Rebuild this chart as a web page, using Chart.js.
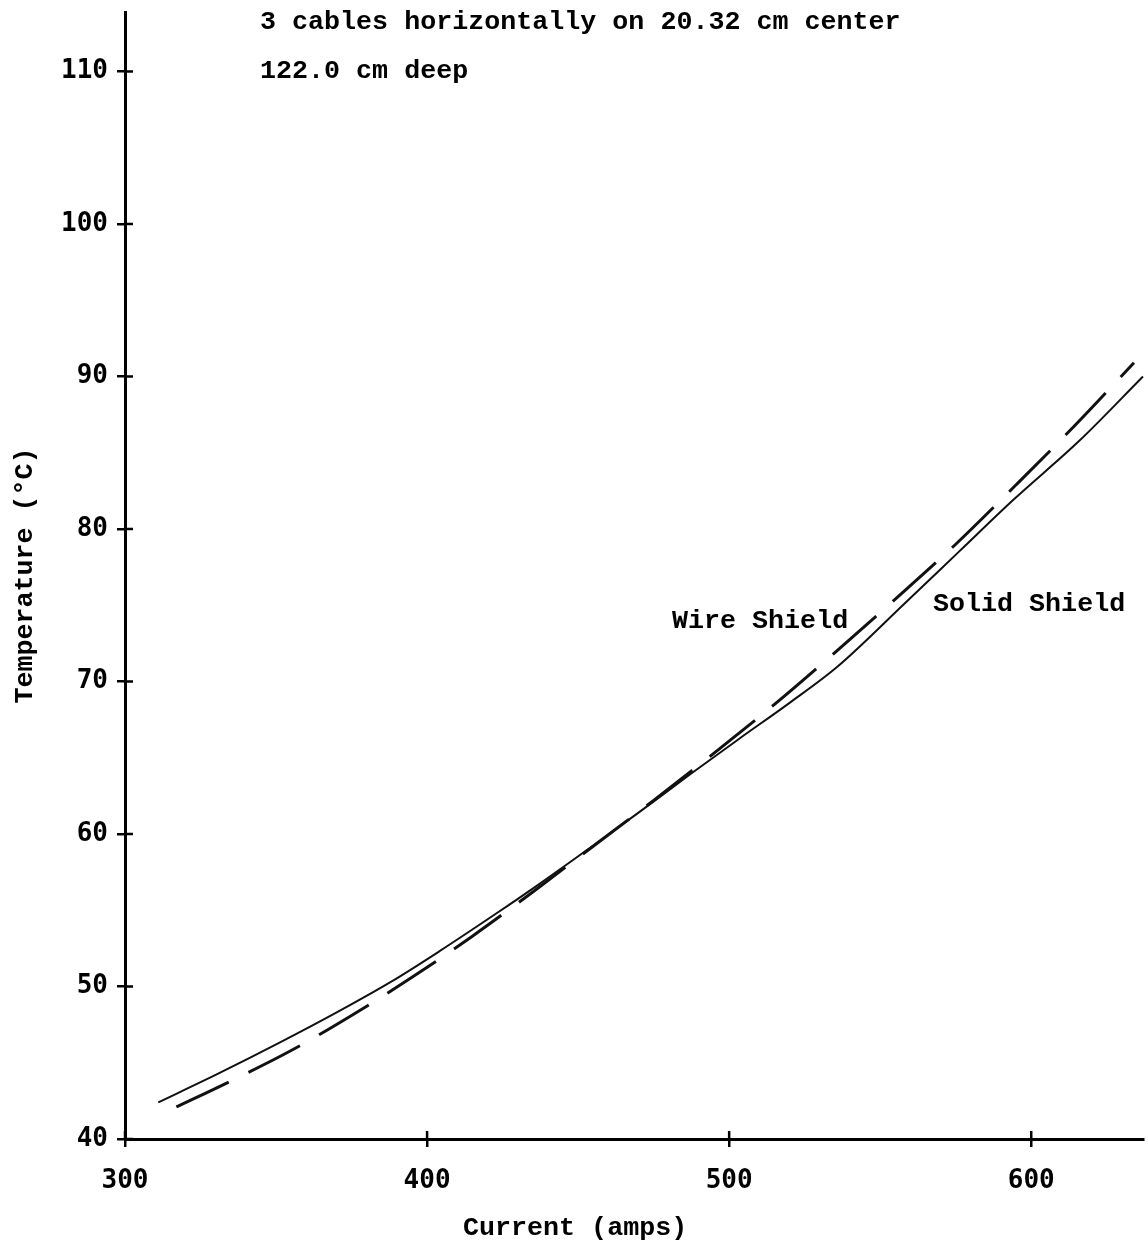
<!DOCTYPE html>
<html>
<head>
<meta charset="utf-8">
<script src="https://cdn.jsdelivr.net/npm/chart.js@4.4.1/dist/chart.umd.min.js"></script>
<style>
  html, body { margin: 0; padding: 0; background: #fff; }
  #wrap { width: 1148px; height: 1244px; }
</style>
</head>
<body>
<div id="wrap"><canvas id="tempChart" width="1148" height="1244"></canvas></div>
<script>
// values (current in amps, temperature in deg C)
const solidCurrent = [311, 331, 351, 371, 388, 404, 423, 437, 454, 470, 487, 503, 520, 536, 558, 576, 594, 616, 637];
const solidTemp    = [42.4, 44.3, 46.3, 48.4, 50.3, 52.3, 54.8, 56.7, 59.1, 61.4, 63.9, 66.2, 68.6, 71.0, 75.1, 78.5, 81.9, 85.8, 90.0];

const wireCurrent = [317, 335, 355, 375, 395, 415, 435, 455, 475, 495, 515, 535, 555, 575, 595, 615, 634];
const wireTemp    = [42.1, 43.8, 45.8, 48.1, 50.6, 53.3, 56.2, 59.2, 62.2, 65.3, 68.5, 71.9, 75.4, 79.0, 82.9, 86.9, 90.9];

const xTicks = [300, 400, 500, 600];
const yTicks = [40, 50, 60, 70, 80, 90, 100, 110];

const notes = [
    { text: "3 cables horizontally on 20.32 cm center", x: 260, y: 22 },
    { text: "122.0 cm deep", x: 260, y: 71 },
    { text: "Wire Shield", x: 672, y: 621 },
    { text: "Solid Shield", x: 933, y: 604 },
    { text: "Current (amps)", x: 463, y: 1228 }
];

const typeFont = 'bold 26.7px "Liberation Mono", "Courier New", monospace';

function toPoints(xs, ys) {
    return xs.map((x, i) => ({ x: x, y: ys[i] }));
}

// inner half of the "+" tick marks, plus the typed labels
const extrasPlugin = {
    id: 'extras',
    afterDraw(chart) {
        const c = chart.ctx;
        const xs = chart.scales.x, ys = chart.scales.y;
        c.save();
        c.strokeStyle = '#000';
        c.lineWidth = 2.5;
        yTicks.forEach(v => {
            const p = ys.getPixelForValue(v);
            c.beginPath(); c.moveTo(xs.left, p); c.lineTo(xs.left + 8, p); c.stroke();
        });
        xTicks.forEach(v => {
            const p = xs.getPixelForValue(v);
            c.beginPath(); c.moveTo(p, ys.bottom); c.lineTo(p, ys.bottom - 8); c.stroke();
        });
        c.fillStyle = '#000';
        c.font = typeFont;
        c.textAlign = 'left';
        c.textBaseline = 'middle';
        notes.forEach(n => c.fillText(n.text, n.x, n.y));
        c.restore();
    }
};

const ctx = document.getElementById('tempChart').getContext('2d');
new Chart(ctx, {
    type: 'line',
    data: {
        datasets: [
            {
                label: 'Solid Shield',
                data: toPoints(solidCurrent, solidTemp),
                borderColor: '#111',
                borderWidth: 2,
                pointRadius: 0,
                cubicInterpolationMode: 'monotone',
                fill: false,
                clip: false
            },
            {
                label: 'Wire Shield',
                data: toPoints(wireCurrent, wireTemp),
                borderColor: '#111',
                borderWidth: 3,
                borderDash: [58, 22],
                pointRadius: 0,
                cubicInterpolationMode: 'monotone',
                fill: false,
                clip: false
            }
        ]
    },
    options: {
        responsive: false,
        animation: false,
        layout: { padding: { top: 12, right: 5, left: 0, bottom: 0 } },
        plugins: { legend: { display: false }, tooltip: { enabled: false } },
        scales: {
            x: {
                type: 'linear',
                min: 300,
                max: 637,
                afterFit(scale) {
                    scale.height = 105;
                    scale.paddingLeft = 0;
                    scale.paddingRight = 0;
                },
                afterBuildTicks(scale) { scale.ticks = xTicks.map(v => ({ value: v })); },
                border: { display: true, color: '#000', width: 3 },
                grid: { drawOnChartArea: false, drawTicks: true, tickLength: 8, color: '#000', lineWidth: 2.5 },
                ticks: {
                    color: '#000',
                    padding: 19,
                    maxRotation: 0,
                    font: { family: '"DejaVu Sans Mono", monospace', size: 26, weight: 'bold' }
                }
            },
            y: {
                min: 40,
                max: 113.9,
                afterFit(scale) {
                    scale.width = 125;
                    scale.paddingTop = 0;
                    scale.paddingBottom = 0;
                },
                afterBuildTicks(scale) { scale.ticks = yTicks.map(v => ({ value: v })); },
                border: { display: true, color: '#000', width: 3 },
                grid: { drawOnChartArea: false, drawTicks: true, tickLength: 8, color: '#000', lineWidth: 2.5 },
                ticks: {
                    color: '#000',
                    padding: 9,
                    font: { family: '"DejaVu Sans Mono", monospace', size: 26, weight: 'bold' }
                },
                title: {
                    display: true,
                    text: 'Temperature (°C)',
                    color: '#000',
                    padding: { top: 9, bottom: 0 },
                    font: { family: '"Liberation Mono", "Courier New", monospace', size: 26.7, weight: 'bold' }
                }
            }
        }
    },
    plugins: [extrasPlugin]
});
</script>
</body>
</html>
